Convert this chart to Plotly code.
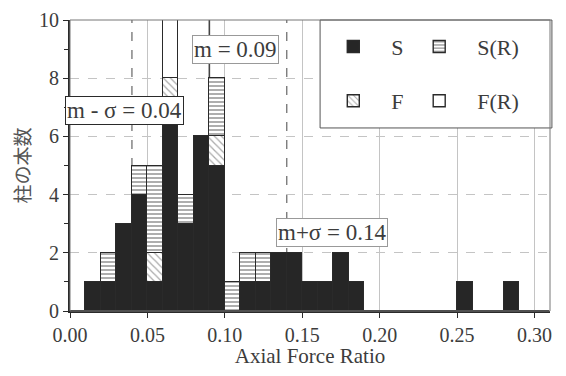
import plotly.graph_objects as go

# ---- data ----
bin_width = 0.01
bin_left = [round(0.01 * k, 2) for k in range(31)]
S_counts =  [0,1,1,3,4,1,7,3,6,5,0,1,1,2,2,1,1,2,1,0,0,0,0,0,0,1,0,0,1,0,0]
SR_counts = [0,0,1,0,1,3,0,1,0,2,1,1,1,0,0,0,0,0,0,0,0,0,0,0,0,0,0,0,0,0,0]
F_counts =  [0,0,0,0,0,1,1,0,0,1,0,0,0,0,0,0,0,0,0,0,0,0,0,0,0,0,0,0,0,0,0]
FR_counts = [0,0,0,0,0,0,2,0,0,0,0,0,0,0,0,0,0,0,0,0,0,0,0,0,0,0,0,0,0,0,0]
stat_values = [0.04, 0.09, 0.14]
stat_labels = ["m - σ = 0.04", "m = 0.09", "m+σ = 0.14"]
x_ticks = [0.00, 0.05, 0.10, 0.15, 0.20, 0.25, 0.30]
y_ticks = [0, 2, 4, 6, 8, 10]

SERIF = "Liberation Serif"
INK = "#2a2a2a"
TXT = "#3c3c3c"
centers = [b + bin_width / 2 for b in bin_left]

fig = go.Figure()

def add(name, vals, color, pattern, legend):
    fig.add_trace(go.Bar(
        x=centers, y=vals, width=bin_width, name=name,
        marker=dict(color=color, line=dict(color=INK, width=1.4),
                    pattern=pattern),
        legend=legend,
    ))

add("S", S_counts, "#262626", dict(shape=""), "legend")
add("F", F_counts, "white", dict(shape="\\", fgcolor="#555", size=5, solidity=0.25), "legend3")
add("S(R)", SR_counts, "white", dict(shape="-", fgcolor="#333", size=4, solidity=0.4), "legend2")
add("F(R)", FR_counts, "white", dict(shape=""), "legend4")

# statistic lines
for v in stat_values:
    is_mean = v == stat_values[1]
    fig.add_shape(type="line", x0=v, x1=v, y0=0, y1=10, xref="x", yref="y",
                  layer="below",
                  line=dict(color="#444" if is_mean else "#666",
                            width=1.6 if is_mean else 1.2,
                            dash="solid" if is_mean else "dash"))

ann_pos = [(0.0355, 6.9, INK), (0.107, 8.97, "#999"), (0.169, 2.71, "#999")]
for lab, (ax, ay, bc) in zip(stat_labels, ann_pos):
    fig.add_annotation(x=ax, y=ay, xref="x", yref="y", text=lab, showarrow=False,
                       font=dict(family=SERIF, size=23, color=TXT),
                       bgcolor="white", bordercolor=bc, borderwidth=1, borderpad=1)

# legend box
fig.add_shape(type="rect", xref="paper", yref="paper", x0=0.521, x1=1.004, y0=0.629, y1=1.0,
              fillcolor="white", line=dict(color="#555", width=1), layer="above")
# plot frame (top/right)
fig.add_shape(type="rect", xref="paper", yref="paper", x0=0, x1=1, y0=0, y1=1,
              line=dict(color="#777", width=1), layer="above")

leg_common = dict(orientation="h", xanchor="left", yanchor="middle",
                  bgcolor="rgba(0,0,0,0)", borderwidth=0,
                  font=dict(family=SERIF, size=22, color=TXT),
                  itemwidth=66)
fig.update_layout(
    width=550, height=360,
    margin=dict(l=62, r=8, t=12, b=57),
    font=dict(family=SERIF),
    paper_bgcolor="white", plot_bgcolor="white",
    barmode="stack", bargap=0,
    showlegend=True,
    legend=dict(x=0.511, y=0.908, **leg_common),
    legend2=dict(x=0.690, y=0.908, **leg_common),
    legend3=dict(x=0.511, y=0.722, **leg_common),
    legend4=dict(x=0.690, y=0.722, **leg_common),
    xaxis=dict(range=[0, 0.31], tickvals=x_ticks, tickformat=".2f",
               ticks="outside", ticklen=5, tickcolor=INK, automargin=False,
               showline=True, linecolor=INK, linewidth=2,
               showgrid=True, gridcolor="#c4c4c4", gridwidth=1,
               tickfont=dict(family=SERIF, size=20, color=TXT),
               ticklabeloverflow="allow",
               title=dict(text="Axial Force Ratio", standoff=6,
                          font=dict(family=SERIF, size=21, color=TXT)),
               zeroline=False),
    yaxis=dict(range=[0, 10], tickvals=y_ticks, ticks="outside", ticklen=5,
               tickcolor=INK, showline=True, linecolor=INK, linewidth=2, automargin=False,
               minor=dict(dtick=1, ticks="outside", ticklen=4, tickcolor=INK, showgrid=False),
               showgrid=True, gridcolor="#c4c4c4", gridwidth=1, griddash="dash",
               tickfont=dict(family=SERIF, size=20, color=TXT),
               ticklabeloverflow="allow",
               title=dict(text="柱の本数", standoff=4,
                          font=dict(family="Noto Sans CJK JP", size=19, color="#555")),
               zeroline=False),
)

fig.write_html("out.html")
